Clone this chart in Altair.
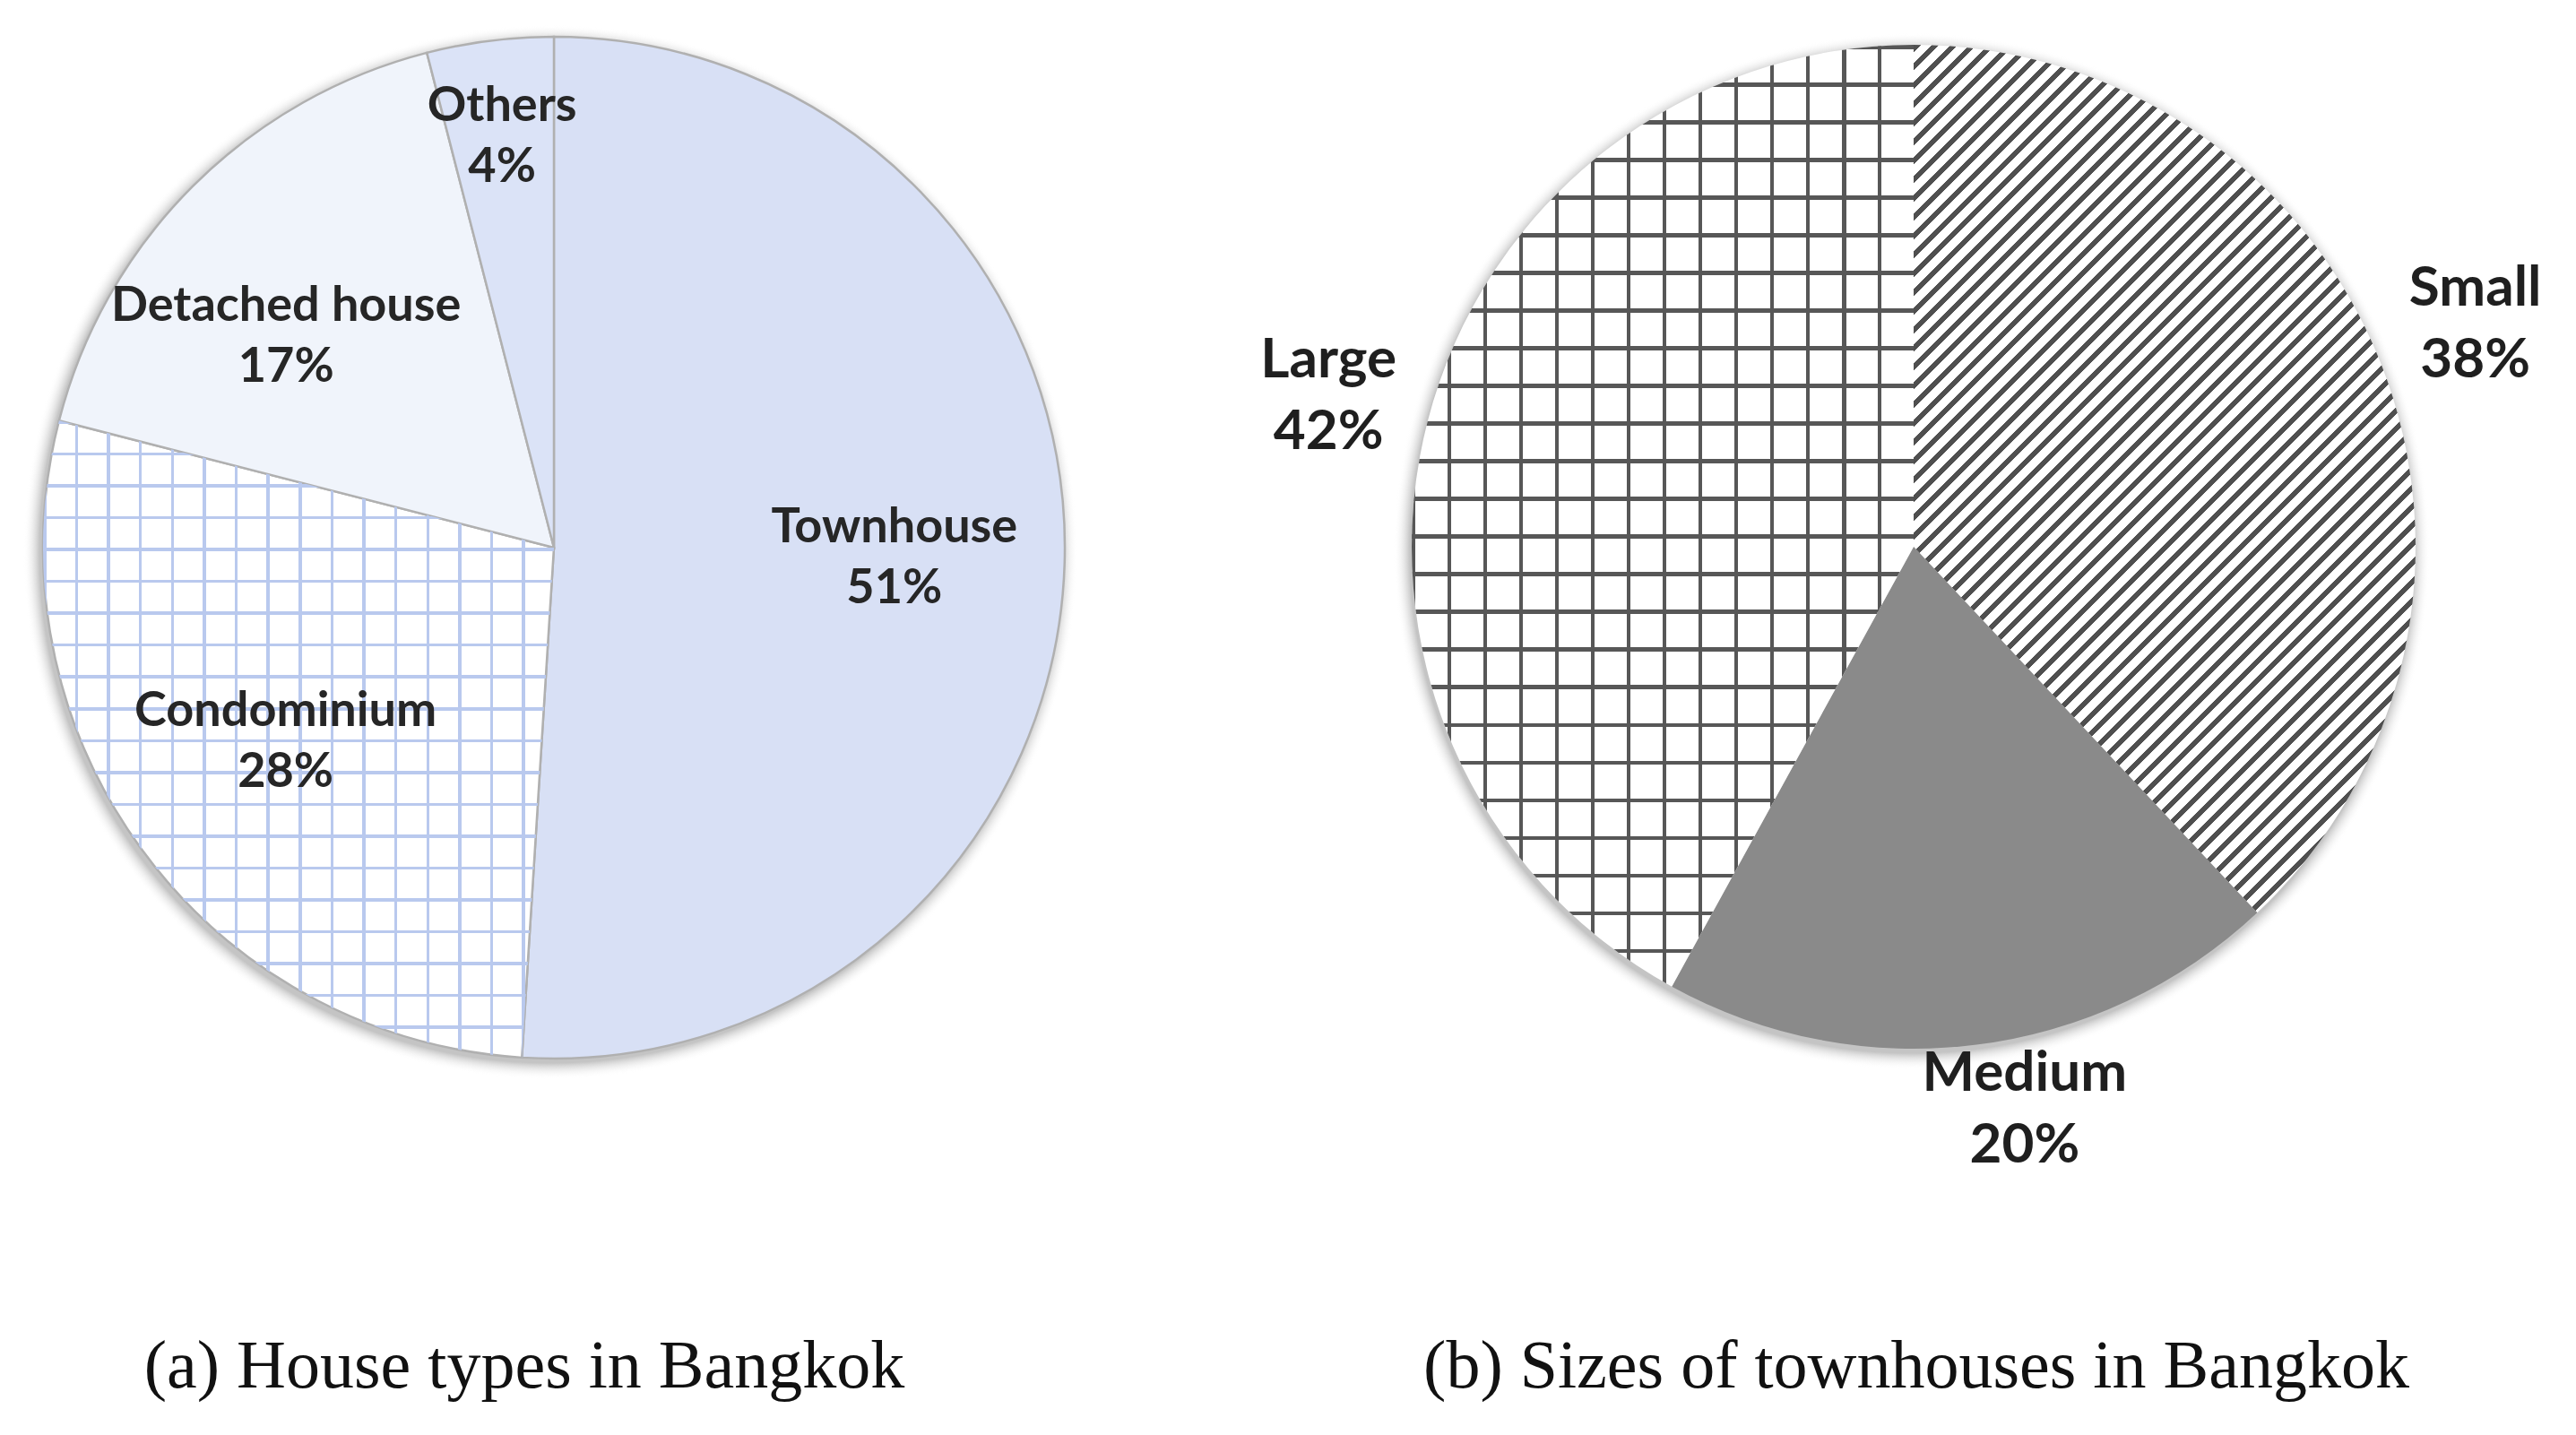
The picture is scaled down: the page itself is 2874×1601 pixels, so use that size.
import math
import altair as alt
import pandas as pd

# ---------------- data ----------------
house_types = ["Townhouse", "Condominium", "Detached house", "Others"]
house_share = [51, 28, 17, 4]
size_names = ["Small", "Medium", "Large"]
size_share = [38, 20, 42]
captions = ["(a) House types in Bangkok", "(b) Sizes of townhouses in Bangkok"]

# ---------------- layout / style ----------------
L_CX, L_CY, L_R = 610, 603, 570
R_CX, R_CY, R_R = 2127, 602, 560
W, H = 2850, 1575
LABEL_FONT = "Lato"
CAPTION_FONT = "Liberation Serif"
theta_scale = alt.Scale(domain=[0, 100])
CLEAR = "rgba(255,255,255,0)"


def arc_bbox(values, idx, R):
    total = sum(values)
    s = sum(values[:idx]) / total * 360
    e = s + values[idx] / total * 360
    angs = [s, e] + [a for a in (0, 90, 180, 270, 360) if s < a < e]
    pts = [(0.0, 0.0)] + [(R * math.sin(math.radians(a)), -R * math.cos(math.radians(a))) for a in angs]
    xs, ys = zip(*pts)
    return max(xs) - min(xs), max(ys) - min(ys)


def band_stops(n, frac, ink, paper):
    stops = []
    for i in range(n):
        a = round(i / n, 6)
        b = round(min((i + frac) / n, 1.0), 6)
        c = round((i + 1) / n, 6)
        stops += [
            {"offset": a, "color": ink},
            {"offset": b, "color": ink},
            {"offset": b, "color": paper},
            {"offset": c, "color": paper},
        ]
    return stops


def lines_gradient(length_px, pitch, width_px, ink, vertical):
    n = max(1, round(length_px / pitch))
    frac = width_px * n / length_px
    return {
        "gradient": "linear", "x1": 0, "y1": 0,
        "x2": 1 if vertical else 0, "y2": 0 if vertical else 1,
        "stops": band_stops(n, frac, ink, CLEAR),
    }


def diag_gradient(w, h, pitch_x, width_x, ink, paper):
    k = h / w
    s = (1 + k) / (1 + k * k)
    n = round((w + h) / pitch_x)
    frac = width_x * n / (w + h)
    return {
        "gradient": "linear", "x1": 0, "y1": 0, "x2": s, "y2": s * k,
        "stops": band_stops(n, frac, ink, paper),
    }


def shadow_gradient(R, spread, col):
    return {
        "gradient": "radial", "x1": 0.5, "y1": 0.5, "r1": 0, "x2": 0.5, "y2": 0.5, "r2": 0.5,
        "stops": [
            {"offset": 0, "color": col},
            {"offset": round(R / (R + spread), 4), "color": col},
            {"offset": 1, "color": CLEAR},
        ],
    }


def pie_base(names, values):
    df = pd.DataFrame({"name": names, "value": values, "order": list(range(len(names)))})
    return (
        alt.Chart(df)
        .transform_window(cum="sum(value)", sort=[alt.SortField("order")], frame=[None, 0])
        .transform_calculate(start="datum.cum - datum.value", mid="datum.cum - datum.value / 2",
                             label="datum.name + '\\n' + datum.value + '%'")
    )


def slice_layer(base, name, cx, cy, R, **mark):
    return (
        base.transform_filter(alt.datum.name == name)
        .mark_arc(outerRadius=R, **mark)
        .encode(theta=alt.Theta("start:Q", scale=theta_scale), theta2="cum:Q",
                x=alt.value(cx), y=alt.value(cy))
    )


one = alt.Data(values=[{"k": 0}])

layers = []

# soft shadows behind the pies
for cx, cy, R in [(L_CX - 4, L_CY + 5, L_R), (R_CX - 2, R_CY + 5, R_R)]:
    layers.append(
        alt.Chart(one).mark_arc(theta=0, theta2=6.2832, outerRadius=R + 18,
                                fill=shadow_gradient(R, 18, "#c4c4c4"))
        .encode(x=alt.value(cx), y=alt.value(cy))
    )

# ---- left pie ----
lb = pie_base(house_types, house_share)
left_fill = {"Townhouse": "#d8e0f5", "Condominium": "#ffffff", "Detached house": "#f0f4fb", "Others": "#dbe3f7"}
for n in house_types:
    layers.append(slice_layer(lb, n, L_CX, L_CY, L_R, fill=left_fill[n], stroke="#b0b0b0", strokeWidth=2.5))
cw, ch = arc_bbox(house_share, house_types.index("Condominium"), L_R)
for vert, length in [(True, cw), (False, ch)]:
    layers.append(slice_layer(lb, "Condominium", L_CX, L_CY, L_R,
                              fill=lines_gradient(length, 35, 3.5, "#b9c9ee", vert)))

layers.append(
    lb.transform_calculate(
        r="datum.name == 'Others' ? 462 : (datum.name == 'Condominium' ? 370 : 380)",
        pos="datum.mid + (datum.name == 'Detached house' ? -1.9 : 0)",
    )
    .mark_text(font=LABEL_FONT, fontWeight="bold", fontSize=54, lineHeight=68, lineBreak="\n",
               color="#262626", align="center", baseline="middle", dy=-34)
    .encode(theta=alt.Theta("pos:Q", scale=theta_scale), radius=alt.Radius("r:Q", scale=None),
            text="label:N", x=alt.value(L_CX), y=alt.value(L_CY))
)

# ---- right pie ----
rb = pie_base(size_names, size_share)
sw, sh = arc_bbox(size_share, size_names.index("Small"), R_R)
layers.append(slice_layer(rb, "Small", R_CX, R_CY, R_R,
                          fill=diag_gradient(sw, sh, 21, 8, "#4f4f4f", "#ffffff")))
layers.append(slice_layer(rb, "Medium", R_CX, R_CY, R_R, fill="#8a8a8a"))
layers.append(slice_layer(rb, "Large", R_CX, R_CY, R_R, fill="#ffffff"))
gw, gh = arc_bbox(size_share, size_names.index("Large"), R_R)
for vert, length, pitch in [(True, gw, 40), (False, gh, 42)]:
    layers.append(slice_layer(rb, "Large", R_CX, R_CY, R_R,
                              fill=lines_gradient(length, pitch, 4.5, "#575757", vert)))

layers.append(
    rb.transform_calculate(
        r="datum.name == 'Medium' ? 640 : 674",
        pos="datum.mid + (datum.name == 'Medium' ? -1.1 : 0)",
    )
    .mark_text(font=LABEL_FONT, fontWeight="bold", fontSize=62, lineHeight=80, lineBreak="\n",
               color="#1f1f1f", align="center", baseline="middle", dy=-40)
    .encode(theta=alt.Theta("pos:Q", scale=theta_scale), radius=alt.Radius("r:Q", scale=None),
            text="label:N", x=alt.value(R_CX), y=alt.value(R_CY))
)

# ---- captions ----
for txt, cx in [(captions[0], 577), (captions[1], 2130)]:
    layers.append(
        alt.Chart(one).mark_text(text=txt, font=CAPTION_FONT, fontSize=76, color="#111111",
                                 align="center", baseline="middle")
        .encode(x=alt.value(cx), y=alt.value(1517))
    )

chart = (
    alt.layer(*layers)
    .properties(width=W, height=H, padding=0, autosize=alt.AutoSizeParams(type="none"),
                background="white")
    .configure_view(stroke=None)
)

chart.save("out.html", embed_options={"renderer": "svg", "actions": False})
